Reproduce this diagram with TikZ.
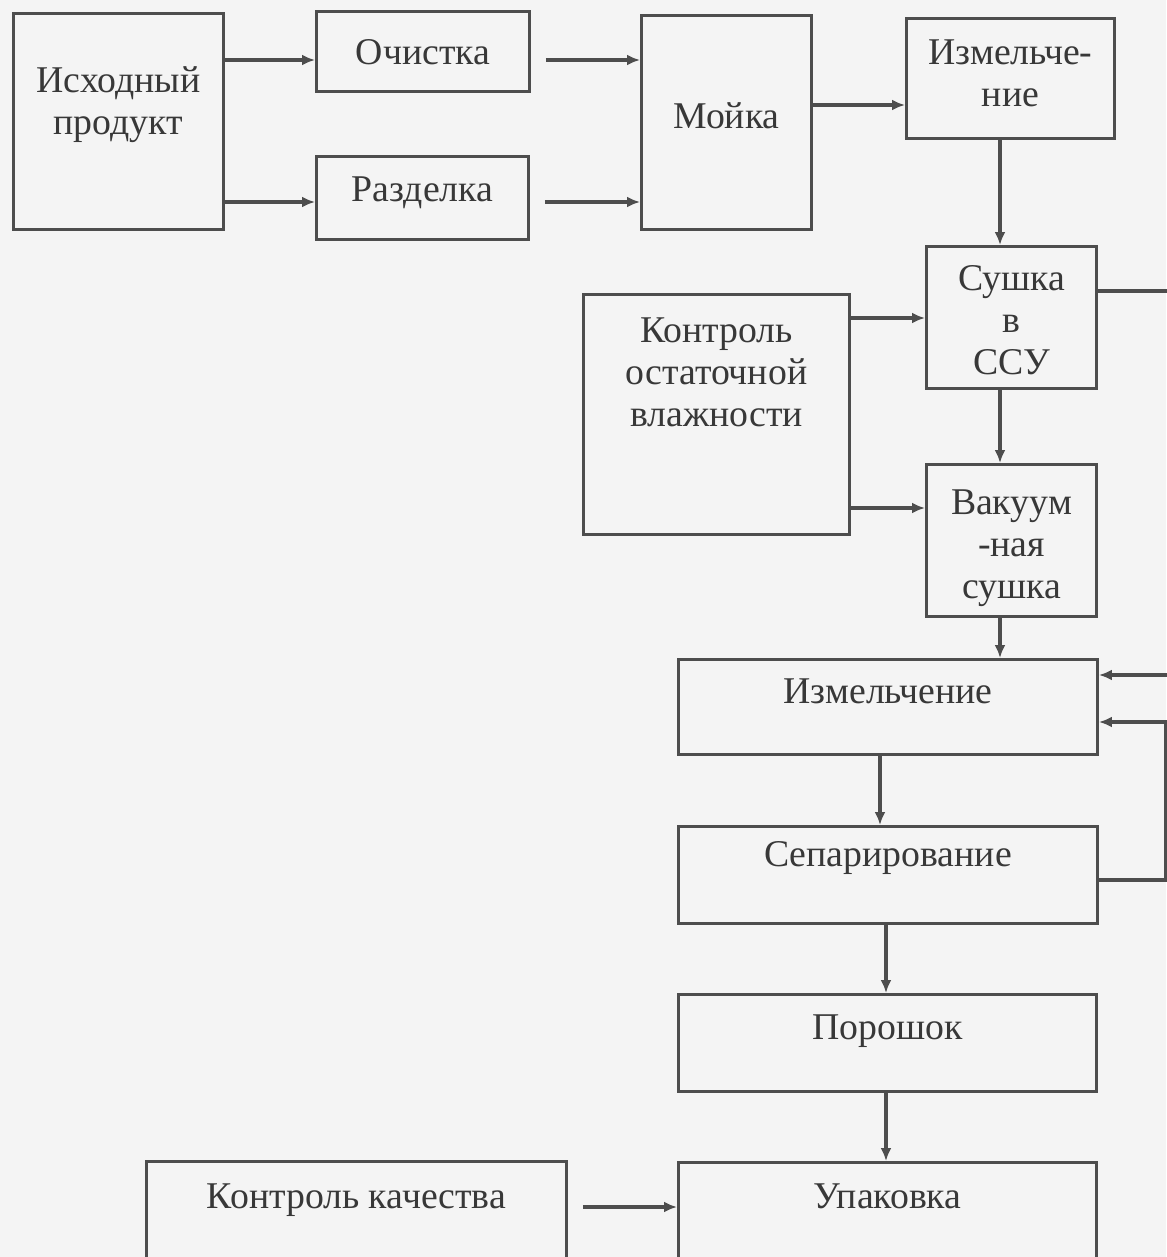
\documentclass[tikz,border=0pt]{standalone}
\usepackage{fontspec}
\setmainfont{Liberation Serif}
\usepackage{tikz}
\usetikzlibrary{arrows.meta, calc, positioning}
\definecolor{scanink}{HTML}{383838}
\definecolor{scanline}{HTML}{4D4D4D}
\definecolor{scanpaper}{HTML}{F4F4F4}

\begin{document}
\begin{tikzpicture}[
x=0.02cm, y=-0.02cm,
texts/.style = {text=scanink, font=\fontsize{21.5}{24}\selectfont},
boxline/.style = {draw=scanline, line width=1.7pt},
stage/.style = {texts, boxline, rectangle, inner sep=0pt, anchor=north west, align=center},
flow/.style = {draw=scanline, line width=2.2pt, -{Latex[length=0.26cm, width=0.22cm]}}
]
\useasboundingbox (0,0) rectangle (1166,1257);
\fill[scanpaper] (0,0) rectangle (1166,1257);

\node[stage, minimum width=4.2cm, text height=2.42cm, text depth=1.9cm] (source) at (12,12) {Исходный\\продукт};
\node[stage, minimum width=4.26cm, text height=1.06cm, text depth=0.54cm] (clean) at (315,10) {Очистка};
\node[stage, minimum width=4.24cm, text height=0.9cm, text depth=0.76cm] (cut) at (315,155) {Разделка};
\node[stage, minimum width=3.4cm, text height=2.26cm, text depth=2.02cm] (wash) at (640,14) {Мойка};
\node[stage, minimum width=4.16cm, text height=1.76cm, text depth=0.64cm] (grindraw) at (905,17) {Измельче-\\ние};
\node[stage, minimum width=3.4cm, text height=2.56cm, text depth=0.28cm] (drycsu) at (925,245) {Сушка\\в\\ССУ};
\node[stage, minimum width=5.32cm, text height=2.64cm, text depth=2.16cm] (moisture) at (582,293) {Контроль\\остаточной\\влажности};
\node[stage, minimum width=3.4cm, text height=2.68cm, text depth=0.36cm] (vacuum) at (925,463) {Вакуум\\-ная\\сушка};
\node[stage, minimum width=8.38cm, text height=0.88cm, text depth=1.02cm] (grind) at (677,658) {Измельчение};
\node[stage, minimum width=8.38cm, text height=0.8cm, text depth=1.14cm] (separate) at (677,825) {Сепарирование};
\node[stage, minimum width=8.36cm, text height=0.9cm, text depth=1.04cm] (powder) at (677,993) {Порошок};
\node[stage, minimum width=8.36cm, text height=0.92cm, text depth=1.26cm] (pack) at (677,1161) {Упаковка};
\node[stage, minimum width=8.4cm, text height=0.94cm, text depth=1.26cm] (quality) at (145,1160) {Контроль качества};

\draw[flow] (source.east |- 0,60) -- (clean.west |- 0,60);
\draw[flow] (source.east |- 0,202) -- (cut.west |- 0,202);
\draw[flow, shorten <=0.3cm] (clean.east |- 0,60) -- (wash.west |- 0,60);
\draw[flow, shorten <=0.3cm] (cut.east |- 0,202) -- (wash.west |- 0,202);
\draw[flow] (wash.east |- 0,105) -- (grindraw.west |- 0,105);
\draw[flow] (grindraw.south -| 1000,0) -- (drycsu.north -| 1000,0);
\draw[flow] (moisture.east |- 0,318) -- (drycsu.west |- 0,318);
\draw[flow] (moisture.east |- 0,508) -- (vacuum.west |- 0,508);
\draw[flow] (drycsu.south -| 1000,0) -- (vacuum.north -| 1000,0);
\draw[flow] (vacuum.south -| 1000,0) -- (grind.north -| 1000,0);
\draw[flow] (drycsu.east |- 0,291) -- ++(80,0) |- (grind.east |- 0,675);
\draw[flow] (separate.east |- 0,880) -- ++(67,0) |- (grind.east |- 0,722);
\draw[flow] (grind.south -| 880,0) -- (separate.north -| 880,0);
\draw[flow] (separate.south -| 886,0) -- (powder.north -| 886,0);
\draw[flow] (powder.south -| 886,0) -- (pack.north -| 886,0);
\draw[flow, shorten <=0.3cm] (quality.east |- 0,1207) -- (pack.west |- 0,1207);
\end{tikzpicture}
\end{document}
